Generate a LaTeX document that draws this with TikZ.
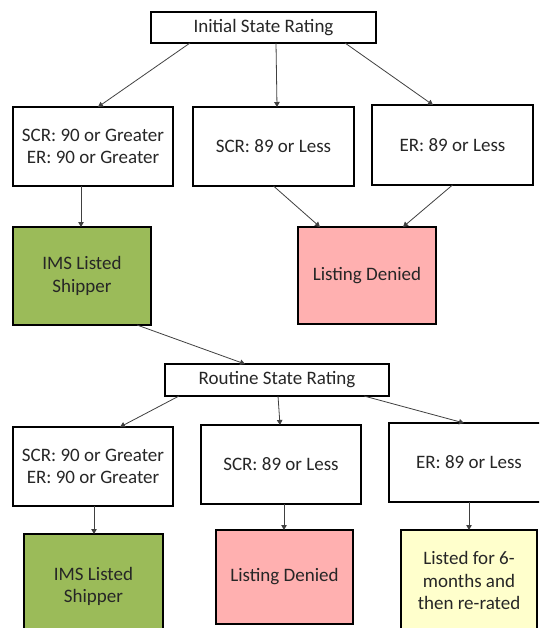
\documentclass[tikz,border=0pt]{standalone}
\usepackage{fontspec}
\setmainfont{Carlito}
\usetikzlibrary{arrows.meta}
\definecolor{boxgreen}{HTML}{9BBB59}
\definecolor{boxpink}{HTML}{FFB0B0}
\definecolor{boxyellow}{HTML}{FFFFCC}
\definecolor{txt}{HTML}{262626}
\definecolor{arrcol}{HTML}{404040}
\begin{document}
\begin{tikzpicture}[x=1pt,y=-1pt,
  box/.style={draw=black, line width=1.6pt, fill=white, text=txt, align=center,
    inner sep=0pt, outer sep=0pt,
    font=\fontsize{19}{22.5}\selectfont},
  arr/.style={draw=arrcol, line width=0.8pt, -{Triangle[width=5.5pt,length=5pt]}}]
\useasboundingbox (0,0) rectangle (539,628);
\clip (0,0) rectangle (539,628);
\fill[white] (0,0) rectangle (539,628);
% top part
\node[box, minimum width=225pt, minimum height=31pt] (init) at (263.5,27.5) {Initial State Rating};
\node[box, minimum width=160pt, minimum height=79pt] (r1a) at (93,146.5) {SCR: 90 or Greater\\ER: 90 or Greater};
\node[box, minimum width=161pt, minimum height=79pt] (r1b) at (273.5,146.5) {SCR: 89 or Less};
\node[box, minimum width=161pt, minimum height=80pt] (r1c) at (452.5,145) {ER: 89 or Less};
\node[box, fill=boxgreen, minimum width=138pt, minimum height=98pt] (g1) at (82,276) {IMS Listed\\Shipper};
\node[box, fill=boxpink, minimum width=138pt, minimum height=97pt] (p1) at (367,275.5) {Listing Denied};
% bottom part
\node[box, minimum width=224pt, minimum height=32pt] (rout) at (277,380) {Routine State Rating};
\node[box, minimum width=160pt, minimum height=79pt] (r3a) at (93,466.5) {SCR: 90 or Greater\\ER: 90 or Greater};
\node[box, minimum width=160pt, minimum height=79pt] (r3b) at (281,464.5) {SCR: 89 or Less};
\node[box, minimum width=160pt, minimum height=79pt] (r3c) at (469,462.5) {ER: 89 or Less};
\node[box, fill=boxgreen, minimum width=139pt, minimum height=105pt] (g2) at (93.5,586.5) {IMS Listed\\Shipper};
\node[box, fill=boxpink, minimum width=137pt, minimum height=94pt] (p2) at (284.5,577) {Listing Denied};
\node[box, fill=boxyellow, minimum width=136pt, minimum height=101pt] (y2) at (469,580.5) {Listed for 6-\\months and\\then re-rated};
% connectors
\draw[arr] ([xshift=-73.5pt]init.south) -- ([xshift=5pt]r1a.north);
\draw[arr] ([xshift=12.5pt]init.south) -- ([xshift=3.5pt]r1b.north);
\draw[arr] ([xshift=81.5pt]init.south) -- ([xshift=-19.5pt]r1c.north);
\draw[arr] ([xshift=-12pt]r1a.south) -- ([xshift=-1pt]g1.north);
\draw[arr] (r1b.south) -- ([xshift=-47pt]p1.north);
\draw[arr] (r1c.south) -- ([xshift=36pt]p1.north);
\draw[arr] ([xshift=55pt]g1.south) -- ([xshift=-32pt]rout.north);
\draw[arr] ([xshift=-98pt]rout.south) -- ([xshift=27pt]r3a.north);
\draw[arr] ([xshift=1pt]rout.south) -- ([xshift=-1pt]r3b.north);
\draw[arr] ([xshift=87pt]rout.south) -- ([xshift=-5pt]r3c.north);
\draw[arr] ([xshift=1pt]r3a.south) -- ([xshift=0.5pt]g2.north);
\draw[arr] ([xshift=3pt]r3b.south) -- ([xshift=-0.5pt]p2.north);
\draw[arr] (r3c.south) -- (y2.north);
\end{tikzpicture}
\end{document}
